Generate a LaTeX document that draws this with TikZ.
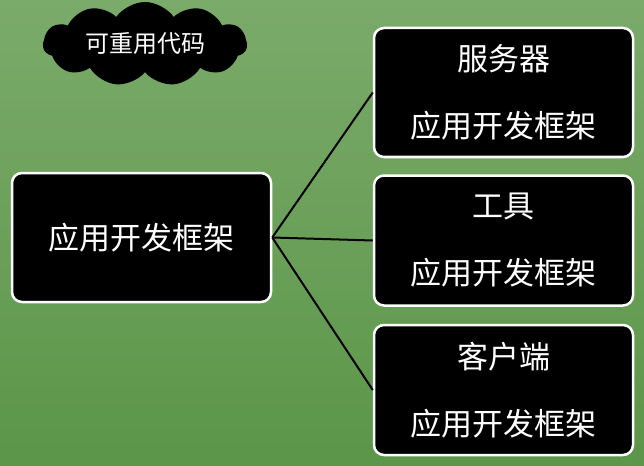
\documentclass[tikz,border=0pt]{standalone}
\usepackage{fontspec}
\setmainfont{Noto Sans CJK SC}
\usetikzlibrary{shapes.symbols}
\definecolor{bgtop}{HTML}{7DAA6C}
\definecolor{bgbottom}{HTML}{4C8A39}
\definecolor{bglight}{HTML}{79AD68}
\begin{document}
\begin{tikzpicture}[x=1pt,y=-1pt]
\tikzset{link/.style = {-, line width=2pt, black}}
\tikzset{panel/.style = {shape=rectangle, rounded corners=10pt, draw=white, line width=2.5pt, fill=black, text=white, minimum width=259pt, align=center, font=\fontsize{31}{67}\selectfont}}
\tikzset{bubble/.style = {shape=cloud, cloud puffs=11, cloud puff arc=110, aspect=2.8, fill=black, text=white, minimum width=204pt, minimum height=84pt, inner sep=0pt, font=\fontsize{24}{24}\selectfont}}
\useasboundingbox (0,0) rectangle (644,465);
\shade[top color=bgtop, bottom color=bgbottom] (0,0) rectangle (644,465);
\shade[inner color=bglight, outer color=bglight, opacity=0.35] (0,0) rectangle (644,465);
\node[bubble](reuse) at (145,44) {可重用代码};
\node[panel, minimum height=129pt](frame) at (141.5,237.5) {应用开发框架};
\node[panel, minimum height=129pt](server) at (503.5,92.5) {服务器\\应用开发框架};
\node[panel, minimum height=130pt](tool) at (503.5,240.5) {工具\\应用开发框架};
\node[panel, minimum height=130pt](client) at (503.5,390) {客户端\\应用开发框架};
\draw[link] (frame.east) to (server.west);
\draw[link] (frame.east) to (tool.west);
\draw[link] (frame.east) to (client.west);
\end{tikzpicture}
\end{document}
